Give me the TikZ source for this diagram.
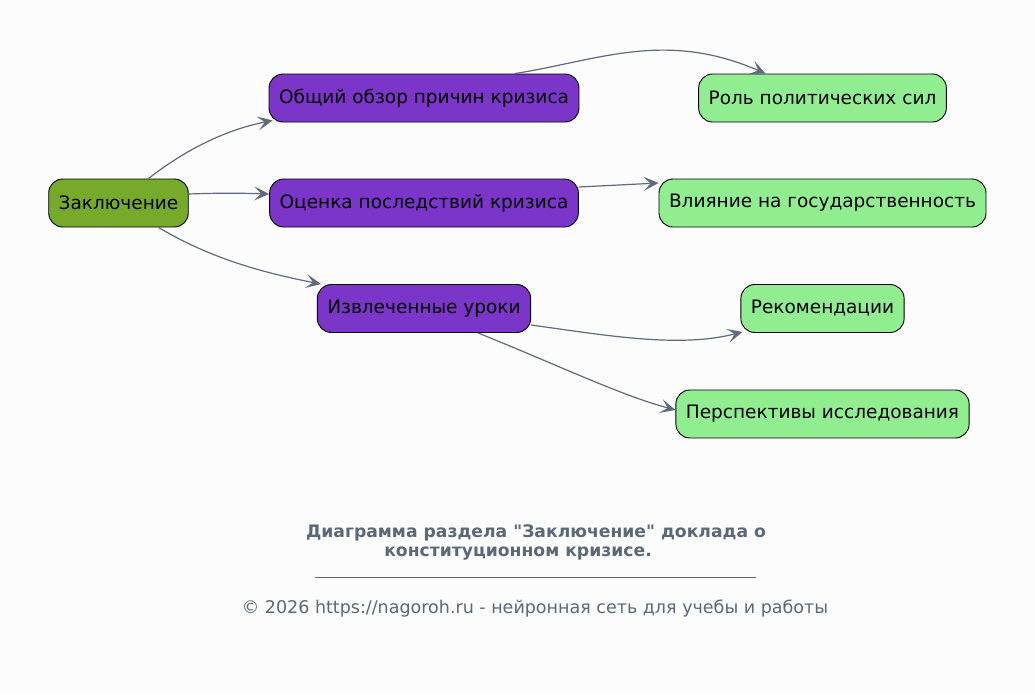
\documentclass[tikz,border=0pt]{standalone}
\usepackage{fontspec}
\setmainfont{DejaVu Sans}[Ligatures=TeXOff]
\usepackage{tikz}
\usepackage{xcolor}
\usetikzlibrary{shapes, positioning, arrows.meta}

\definecolor{rootgreen}{HTML}{77AA2A}
\definecolor{topicpurple}{HTML}{7B35C8}
\definecolor{leafgreen}{HTML}{90EE90}
\definecolor{edgegray}{HTML}{5F6B7A}
\definecolor{capgray}{HTML}{5A6878}
\definecolor{bgwhite}{HTML}{FCFCFD}

\tikzset{
    box/.style={draw=black, line width=0.9pt, rounded corners=14pt, minimum height=48pt,
        inner xsep=10pt, font=\fontsize{18.5}{22}\selectfont},
    rootbox/.style={box, fill=rootgreen},
    topicbox/.style={box, fill=topicpurple},
    leafbox/.style={box, fill=leafgreen},
    edge/.style={draw=edgegray, line width=1.2pt,
        -{Stealth[length=15pt, width=14pt, inset=7pt]}}
}

\begin{document}
\begin{tikzpicture}[x=1pt, y=-1pt]
        \fill[bgwhite] (0, 0) rectangle (1035, 694);
        \useasboundingbox (0, 0) rectangle (1035, 694);

        \node[rootbox] (zakl) at (118.5, 203) {Заключение};
        \node[topicbox] (obzor) at (424, 98) {Общий обзор причин кризиса};
        \node[topicbox] (ocenka) at (424, 203) {Оценка последствий кризиса};
        \node[topicbox] (uroki) at (424, 308.5) {Извлеченные уроки};
        \node[leafbox] (rol) at (822.5, 98) {Роль политических сил};
        \node[leafbox] (vliyanie) at (822.5, 203) {Влияние на государственность};
        \node[leafbox] (rekom) at (822.5, 308.5) {Рекомендации};
        \node[leafbox] (perspek) at (822.5, 414) {Перспективы исследования};

        \draw[edge] ([xshift=30pt]zakl.north) .. controls (185, 150) and (225, 130) .. ([xshift=4pt, yshift=2pt]obzor.south west);
        \draw[edge] ([yshift=9pt]zakl.east) .. controls (215, 193) and (240, 193) .. ([yshift=9pt]ocenka.west);
        \draw[edge] ([xshift=40pt]zakl.south) .. controls (210, 258) and (260, 272) .. ([xshift=4pt]uroki.north west);
        \draw[edge] ([xshift=91pt]obzor.north) .. controls (600, 60) and (665, 30) .. ([xshift=-57pt]rol.north);
        \draw[edge] ([yshift=16pt]ocenka.east) -- ([yshift=20pt]vliyanie.west);
        \draw[edge] ([yshift=-16.5pt]uroki.east) .. controls (610, 336) and (680, 348) .. ([xshift=2pt, yshift=1pt]rekom.south west);
        \draw[edge] ([xshift=54pt]uroki.south) .. controls (560, 366) and (620, 395) .. ([yshift=4pt]perspek.west);

        \node[font=\fontsize{17.2}{19}\selectfont\bfseries, text=capgray, align=center] (caption) at (536, 542)
            {Диаграмма раздела "Заключение" доклада о\\конституционном кризисе.\hspace*{36pt}};
        \node (lineleft) at (315, 577) {};
        \node (lineright) at (756, 577) {};
        \draw[capgray, line width=0.8pt] (lineleft.center) -- (lineright.center);
        \node[font=\fontsize{17.5}{20}\selectfont, text=capgray] (footer) at (535, 609)
            {© 2026 https://nagoroh.ru - нейронная сеть для учебы и работы};
    \end{tikzpicture}
\end{document}
